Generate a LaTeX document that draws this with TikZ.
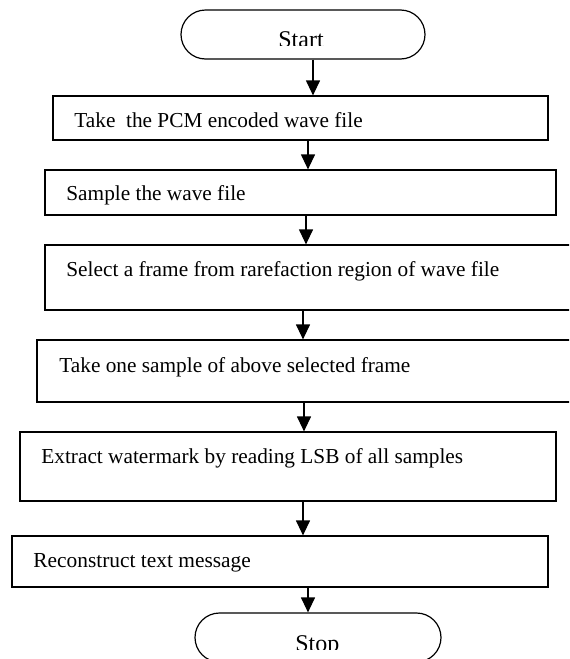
\documentclass[tikz,border=0pt]{standalone}
\usepackage{fontspec}
\setmainfont{Liberation Serif}
\usetikzlibrary{arrows.meta,shapes.misc}
\tikzset{
  box/.style={draw=black, line width=0.6pt, rectangle, inner sep=0pt},
  term/.style={draw=black, line width=0.6pt, rounded rectangle, inner sep=0pt},
  txt/.style={anchor=base west, inner sep=0pt, font=\fontsize{#1}{13pt}\selectfont},
  arr/.style={draw=black, line width=0.6pt, -{Triangle[length=7.5pt,width=7pt]}}
}
\begin{document}
\begin{tikzpicture}[x=0.5pt,y=-0.5pt]
\clip (0,0) rectangle (569,659);
% terminals
\node[term, minimum width=122pt, minimum height=24.5pt] (start) at (303,34.5) {};
\node[term, minimum width=123pt, minimum height=24.5pt] (stop) at (318,637.5) {};
% process boxes
\node[box, minimum width=247.5pt, minimum height=22pt] (b1) at (300.5,118) {};
\node[box, minimum width=255.5pt, minimum height=22.5pt] (b2) at (300.5,192.5) {};
\node[box, minimum width=265pt, minimum height=32.5pt] (b3) at (310,277.5) {};
\node[box, minimum width=269pt, minimum height=31pt] (b4) at (306,371) {};
\node[box, minimum width=268pt, minimum height=34.5pt] (b5) at (288,466.5) {};
\node[box, minimum width=268pt, minimum height=25.5pt] (b6) at (280,561.5) {};
% texts
\begin{scope}
\clip (150,0) rectangle (450,45.5);
\node[txt=12pt] (tstart) at (278,47.5) {Start};
\end{scope}
\begin{scope}
\clip (150,600) rectangle (450,649.5);
\node[txt=12pt] (tstop) at (295,651.5) {Stop};
\end{scope}
\node[txt=10.65pt] (t1) at (74,127) {Take\ \ the PCM encoded wave file};
\node[txt=10.65pt] (t2) at (66,200) {Sample the wave file};
\node[txt=10.65pt] (t3) at (66,276) {Select a frame from rarefaction region of wave file};
\node[txt=10.65pt] (t4) at (59,372) {Take one sample of above selected frame};
\node[txt=10.65pt] (t5) at (41,463) {Extract watermark by reading LSB of all samples};
\node[txt=10.7pt] (t6) at (33,567) {Reconstruct text message};
% connectors
\draw[arr] (start.south -| 313,0) -- (b1.north -| 313,0);
\draw[arr] (b1.south -| 308,0) -- (b2.north -| 308,0);
\draw[arr] (b2.south -| 306,0) -- (b3.north -| 306,0);
\draw[arr] (b3.south -| 303,0) -- (b4.north -| 303,0);
\draw[arr] (b4.south -| 304,0) -- (b5.north -| 304,0);
\draw[arr] (b5.south -| 303,0) -- (b6.north -| 303,0);
\draw[arr] (b6.south -| 308,0) -- (stop.north -| 308,0);
\end{tikzpicture}
\end{document}
